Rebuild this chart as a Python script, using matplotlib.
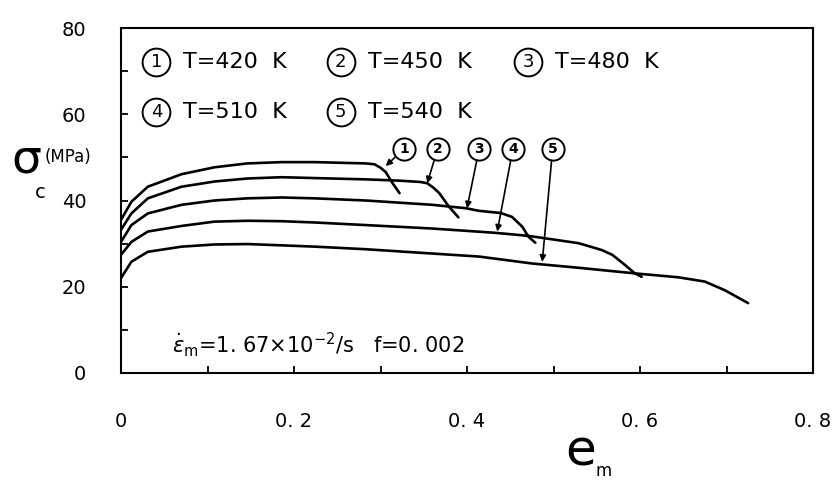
import numpy as np
import matplotlib
matplotlib.use("Agg")
import matplotlib.pyplot as plt
from matplotlib.ticker import MultipleLocator, FixedLocator

# strain e_m vs flow stress sigma_c (MPa) for five temperatures
c1_e = [0, 0.012, 0.031, 0.070, 0.108, 0.146, 0.186, 0.224, 0.283, 0.293, 0.300, 0.306, 0.314, 0.322]
c1_s = [35.5, 39.7, 43.2, 46.1, 47.7, 48.6, 48.9, 48.9, 48.6, 48.4, 47.6, 46.6, 44.0, 41.7]

c2_e = [0, 0.012, 0.031, 0.070, 0.108, 0.146, 0.186, 0.224, 0.283, 0.322, 0.346, 0.354, 0.361, 0.368, 0.379, 0.390]
c2_s = [33.2, 37.0, 40.5, 43.2, 44.4, 45.1, 45.4, 45.2, 44.9, 44.6, 44.3, 44.0, 43.0, 41.7, 38.6, 36.1]

c3_e = [0, 0.012, 0.031, 0.070, 0.108, 0.146, 0.186, 0.224, 0.283, 0.360, 0.399, 0.414, 0.439, 0.452, 0.464, 0.471, 0.479]
c3_s = [30.4, 34.3, 37.0, 39.0, 40.0, 40.5, 40.7, 40.5, 40.0, 39.0, 38.2, 37.6, 37.1, 36.2, 33.9, 31.6, 30.2]

c4_e = [0, 0.012, 0.031, 0.070, 0.108, 0.146, 0.186, 0.224, 0.283, 0.360, 0.433, 0.471, 0.529, 0.541, 0.556, 0.568, 0.583, 0.594, 0.602]
c4_s = [27.4, 30.4, 32.8, 34.1, 35.1, 35.3, 35.2, 34.9, 34.3, 33.5, 32.5, 31.8, 30.1, 29.4, 28.5, 27.4, 25.0, 23.1, 22.3]

c5_e = [0, 0.012, 0.031, 0.070, 0.108, 0.146, 0.186, 0.224, 0.283, 0.360, 0.414, 0.475, 0.529, 0.594, 0.644, 0.675, 0.698, 0.725]
c5_s = [22.0, 25.8, 28.1, 29.3, 29.8, 29.9, 29.6, 29.3, 28.7, 27.7, 27.0, 25.4, 24.4, 23.1, 22.2, 21.2, 19.2, 16.2]

curve_ids = ["1", "2", "3", "4", "5"]
temps = ["T=420  K", "T=450  K", "T=480  K", "T=510  K", "T=540  K"]

x_ticks = [0, 0.2, 0.4, 0.6, 0.8]
x_labels = ["0", "0. 2", "0. 4", "0. 6", "0. 8"]
y_ticks = [0, 20, 40, 60, 80]
y_labels = ["0", "20", "40", "60", "80"]

W, H = 839, 480
fig = plt.figure(figsize=(W / 100, H / 100), dpi=100)
ax = fig.add_axes([121 / W, 1 - 373 / H, (813 - 121) / W, (373 - 28) / H])

curves = [(c1_e, c1_s), (c2_e, c2_s), (c3_e, c3_s), (c4_e, c4_s), (c5_e, c5_s)]
for e, s in curves:
    ax.plot(e, s, color="black", lw=1.9, solid_capstyle="round", solid_joinstyle="round")

ax.set_xlim(0, 0.8)
ax.set_ylim(0, 80)

ax.xaxis.set_major_locator(FixedLocator(x_ticks))
ax.set_xticklabels(x_labels)
ax.xaxis.set_minor_locator(MultipleLocator(0.1))
ax.yaxis.set_major_locator(FixedLocator(y_ticks))
ax.set_yticklabels(y_labels)
ax.yaxis.set_minor_locator(MultipleLocator(10))
ax.tick_params(axis="both", which="both", direction="in", length=5, width=1.3,
               top=False, right=False, color="black")
ax.tick_params(axis="x", which="major", pad=28, labelsize=14)
ax.tick_params(axis="y", which="major", pad=25, labelsize=14)
for sp in ax.spines.values():
    sp.set_linewidth(1.5)

# legend block (circled numbers)
leg_pos = [(0.041, 72.2), (0.254, 72.2), (0.471, 72.2), (0.041, 60.6), (0.254, 60.6)]
for (cx, cy), cid, t in zip(leg_pos, curve_ids, temps):
    ax.plot(cx, cy, "o", ms=20, mfc="white", mec="black", mew=1.4)
    ax.text(cx, cy, cid, ha="center", va="center", fontsize=13)
    ax.text(cx + 0.031, cy, t, ha="left", va="center", fontsize=16)

# curve markers with arrows
mark_x = [0.327, 0.366, 0.414, 0.453, 0.499]
mark_y = 51.9
heads = [(0.306, 48.0), (0.354, 44.0), (0.400, 38.2), (0.435, 32.8), (0.487, 25.8)]
for mx, cid, hd in zip(mark_x, curve_ids, heads):
    ax.annotate("", xy=hd, xytext=(mx, mark_y),
                arrowprops=dict(arrowstyle="-|>", color="black", lw=1.2,
                                mutation_scale=9, shrinkA=8, shrinkB=0))
    ax.plot(mx, mark_y, "o", ms=16, mfc="white", mec="black", mew=1.4)
    ax.text(mx, mark_y, cid, ha="center", va="center", fontsize=10, fontweight="bold")

ax.text(0.059, 6.5, r"$\dot{\varepsilon}_{\rm m}$=1. 67×10$^{-2}$/s   f=0. 002",
        ha="left", va="center", fontsize=15)

# axis labels
fig.text(26 / W, 1 - 160 / H, "σ", ha="center", va="center", fontsize=34)
fig.text(45 / W, 1 - 157 / H, "(MPa)", ha="left", va="center", fontsize=12)
fig.text(40 / W, 1 - 192 / H, "c", ha="center", va="center", fontsize=14)
fig.text(581 / W, 1 - 452 / H, "e", ha="center", va="center", fontsize=36)
fig.text(604 / W, 1 - 471 / H, "m", ha="center", va="center", fontsize=12)

fig.savefig("out.png", dpi=100)
